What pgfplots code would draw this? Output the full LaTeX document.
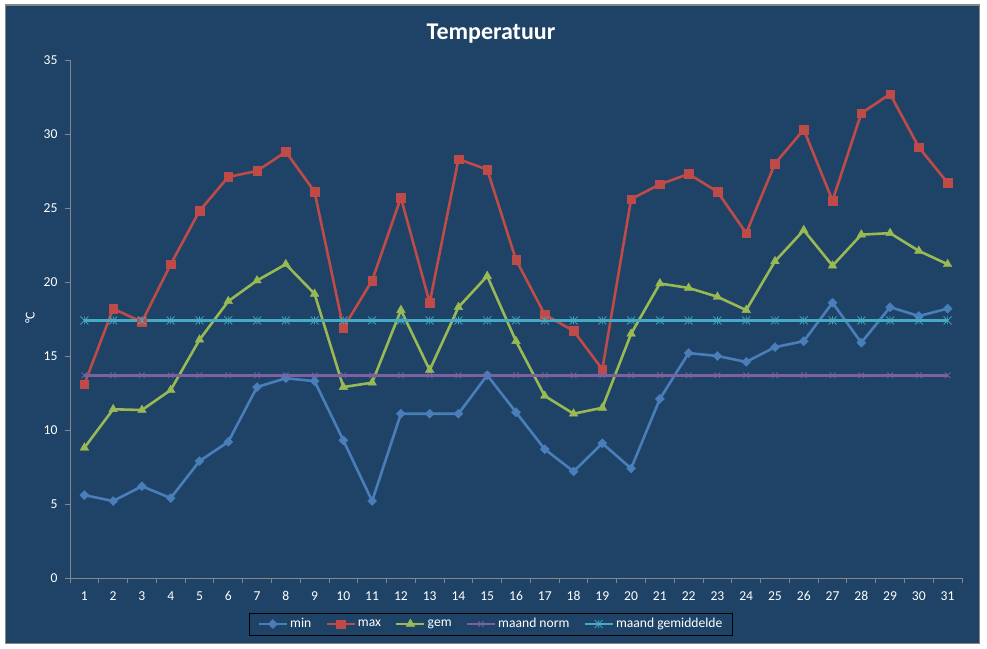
\documentclass[border=0pt]{standalone}
\usepackage{pgfplots}
\pgfplotsset{compat=1.18}
\usepackage{pgfplotstable}
\usepackage{fontspec}
\setmainfont{Carlito}

\definecolor{bgblue}{RGB}{31,67,102}
\definecolor{framegray}{RGB}{134,134,134}
\definecolor{axisgray}{RGB}{134,134,134}
\definecolor{cmin}{RGB}{74,126,187}
\definecolor{cmax}{RGB}{190,75,72}
\definecolor{cgem}{RGB}{152,185,84}
\definecolor{cnorm}{RGB}{125,96,160}
\definecolor{cgemid}{RGB}{70,170,197}

% star mark: a cross with a vertical stroke through it
\pgfdeclareplotmark{xstar}{%
  \pgfpathmoveto{\pgfqpoint{-\pgfplotmarksize}{-\pgfplotmarksize}}%
  \pgfpathlineto{\pgfqpoint{\pgfplotmarksize}{\pgfplotmarksize}}%
  \pgfpathmoveto{\pgfqpoint{-\pgfplotmarksize}{\pgfplotmarksize}}%
  \pgfpathlineto{\pgfqpoint{\pgfplotmarksize}{-\pgfplotmarksize}}%
  \pgfpathmoveto{\pgfqpoint{0pt}{-\pgfplotmarksize}}%
  \pgfpathlineto{\pgfqpoint{0pt}{\pgfplotmarksize}}%
  \pgfusepathqstroke}

\pgfplotstableread{
day min  max  gem   norm gemid
1   5.6  13.1 8.8   13.7 17.4
2   5.2  18.2 11.4  13.7 17.4
3   6.2  17.3 11.35 13.7 17.4
4   5.4  21.2 12.7  13.7 17.4
5   7.9  24.8 16.1  13.7 17.4
6   9.2  27.1 18.7  13.7 17.4
7   12.9 27.5 20.1  13.7 17.4
8   13.5 28.8 21.2  13.7 17.4
9   13.3 26.1 19.2  13.7 17.4
10  9.3  16.9 12.9  13.7 17.4
11  5.2  20.1 13.2  13.7 17.4
12  11.1 25.7 18.1  13.7 17.4
13  11.1 18.6 14.05 13.7 17.4
14  11.1 28.3 18.3  13.7 17.4
15  13.7 27.6 20.4  13.7 17.4
16  11.2 21.5 16.0  13.7 17.4
17  8.7  17.8 12.3  13.7 17.4
18  7.2  16.7 11.1  13.7 17.4
19  9.1  14.1 11.5  13.7 17.4
20  7.4  25.6 16.5  13.7 17.4
21  12.1 26.6 19.9  13.7 17.4
22  15.2 27.3 19.6  13.7 17.4
23  15.0 26.1 19.0  13.7 17.4
24  14.6 23.3 18.1  13.7 17.4
25  15.6 28.0 21.4  13.7 17.4
26  16.0 30.3 23.5  13.7 17.4
27  18.6 25.5 21.1  13.7 17.4
28  15.9 31.4 23.2  13.7 17.4
29  18.3 32.7 23.3  13.7 17.4
30  17.7 29.1 22.1  13.7 17.4
31  18.2 26.7 21.2  13.7 17.4
}\temps

\begin{document}
\begin{tikzpicture}[x=1pt,y=1pt]
\useasboundingbox (0,0) rectangle (987,648);
\fill[white] (0,0) rectangle (987,648);
\filldraw[fill=bgblue, draw=framegray, line width=1.2pt] (5.5,4.5) rectangle (979.5,643);
\begin{axis}[
  at={(70pt,70pt)}, anchor=south west,
  scale only axis, width=892pt, height=518pt,
  xmin=0.5, xmax=31.5, ymin=0, ymax=35,
  axis x line*=bottom, axis y line*=left,
  axis line style={draw=axisgray, line width=0.9pt, -},
  tick align=outside,
  major tick length=5pt, minor tick length=5pt,
  tick style={draw=axisgray, line width=0.9pt},
  ytick={0,5,...,35},
  xtick={1,2,...,31},
  minor xtick={0.5,1.5,...,31.5},
  major x tick style={draw=none},
  /pgf/number format/assume math mode=true,
  ticklabel style={font=\fontsize{13.6}{16}\selectfont, text=white},
  yticklabel style={xshift=-4pt},
  xticklabel style={yshift=-5pt},
  title={Temperatuur},
  title style={at={(axis description cs:0.472,1.0289)}, anchor=base,
    font=\fontsize{24}{28}\selectfont\bfseries, text=white},
  ylabel={°C},
  ylabel style={at={(axis description cs:-0.0448,0.502)}, anchor=center,
    font=\fontsize{13.6}{16}\selectfont, text=white},
  clip=false,
  legend columns=-1,
  legend style={at={(axis description cs:0.472,-0.0888)}, anchor=center,
    draw=black, line width=0.9pt, fill=none, text=white,
    font=\fontsize{13.6}{16}\selectfont,
    inner xsep=8pt, inner ysep=3.5pt,
    /tikz/every even column/.append style={column sep=12pt}},
  legend image code/.code={%
    \draw[mark repeat=2, mark phase=2] plot coordinates {(0pt,0pt) (14pt,0pt) (28pt,0pt)};},
  every axis plot/.append style={line width=2.6pt},
]
\addplot[color=cmin, mark=square*, mark size=3.2pt, mark options={rotate=45, line width=0.4pt}]
  table[x=day, y=min] {\temps};
\addlegendentry{min}
\addplot[color=cmax, mark=square*, mark size=4.3pt, mark options={line width=0.4pt}]
  table[x=day, y=max] {\temps};
\addlegendentry{max}
\addplot[color=cgem, mark=triangle*, mark size=5pt, mark options={line width=0.4pt}]
  table[x=day, y=gem] {\temps};
\addlegendentry{gem}
\addplot[color=cnorm, mark=x, mark size=4pt, mark options={line width=0.7pt}]
  table[x=day, y=norm] {\temps};
\addlegendentry{maand norm}
\addplot[color=cgemid, mark=xstar, mark size=4pt, mark options={line width=0.7pt}]
  table[x=day, y=gemid] {\temps};
\addlegendentry{maand gemiddelde}
\end{axis}
\end{tikzpicture}
\end{document}
